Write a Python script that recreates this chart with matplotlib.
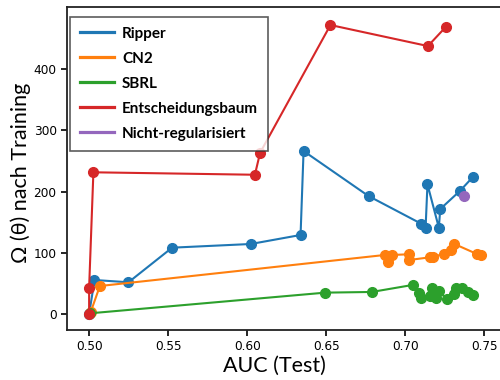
import matplotlib
matplotlib.use('Agg')
import matplotlib.pyplot as plt

# AUC (Test) vs. regularisation value after training
ripper_auc = [0.500, 0.5034, 0.5249, 0.5525, 0.6023, 0.6338, 0.6357, 0.6768,
              0.7101, 0.7129, 0.7141, 0.7213, 0.7222, 0.7348, 0.7430]
ripper_omega = [0, 55.9, 52.2, 108.6, 114.6, 129.3, 266.2, 192.8,
                147.7, 140.2, 211.9, 141.2, 171.6, 201.5, 224.3]

cn2_auc = [0.501, 0.5068, 0.6871, 0.6890, 0.6916, 0.7021, 0.7025, 0.7156,
           0.7179, 0.7243, 0.7290, 0.7308, 0.7454, 0.7477]
cn2_omega = [3.7, 46.1, 96.7, 85.8, 96.7, 97.8, 88.5, 92.9,
             93.9, 98.3, 104.8, 115.0, 98.3, 97.0]

sbrl_auc = [0.5006, 0.6494, 0.6789, 0.7051, 0.7088, 0.7103, 0.7156, 0.7171,
            0.7192, 0.7216, 0.7262, 0.7311, 0.7322, 0.7362, 0.7396, 0.7427]
sbrl_omega = [1.6, 35.3, 36.4, 48.0, 34.2, 26.6, 30.0, 42.4,
              26.6, 38.3, 24.5, 33.4, 42.4, 43.4, 36.8, 31.5]

tree_auc = [0.500, 0.500, 0.5027, 0.6049, 0.6082, 0.6527, 0.7144, 0.7258]
tree_omega = [0, 43.4, 231.5, 227.5, 263.4, 471.6, 437.3, 468.8]

unreg_auc = [0.7373]
unreg_omega = [192.3]

series = [
    ('Ripper', ripper_auc, ripper_omega, '#1f77b4'),
    ('CN2', cn2_auc, cn2_omega, '#ff7f0e'),
    ('SBRL', sbrl_auc, sbrl_omega, '#2ca02c'),
    ('Entscheidungsbaum', tree_auc, tree_omega, '#d62728'),
    ('Nicht-regularisiert', unreg_auc, unreg_omega, '#9467bd'),
]

label_font = ['Lato', 'DejaVu Sans']

fig = plt.figure(figsize=(5, 3.8), dpi=100)
ax = fig.add_axes([0.134, 0.1316, 0.866, 0.85])

for name, x, y, color in series:
    ax.plot(x, y, '-', color=color, linewidth=1.5)
    ax.plot(x, y, 'o', color=color, markersize=7)
    # legend shows plain lines only
    ax.plot([], [], '-', color=color, linewidth=2.3, label=name)

ax.set_xlim(0.486, 0.760)
ax.set_ylim(-25.6, 501)
ax.set_xticks([0.50, 0.55, 0.60, 0.65, 0.70, 0.75])
ax.set_yticks([0, 100, 200, 300, 400])
ax.tick_params(labelsize=8.7, length=4, width=1.2)

for side in ['left', 'bottom', 'top']:
    ax.spines[side].set_linewidth(1.3)
    ax.spines[side].set_color('#222222')
ax.spines['right'].set_visible(False)

ax.set_xlabel('AUC (Test)', fontsize=15.5, family=label_font, labelpad=2)
ax.set_ylabel('Ω (θ) nach Training', fontsize=15.5, family=label_font, labelpad=2)
ax.xaxis.label.set_x(0.479)
ax.yaxis.label.set_y(0.486)

leg = ax.legend(loc='upper left', fancybox=False, edgecolor='#333333',
                prop={'family': label_font, 'weight': 'bold', 'size': 11},
                handlelength=2.2, handletextpad=0.55, labelspacing=0.72,
                borderpad=0.65, borderaxespad=0,
                bbox_to_anchor=(0.007, 0.970))
leg.get_frame().set_linewidth(1.2)

fig.savefig('out.png', dpi=100)
